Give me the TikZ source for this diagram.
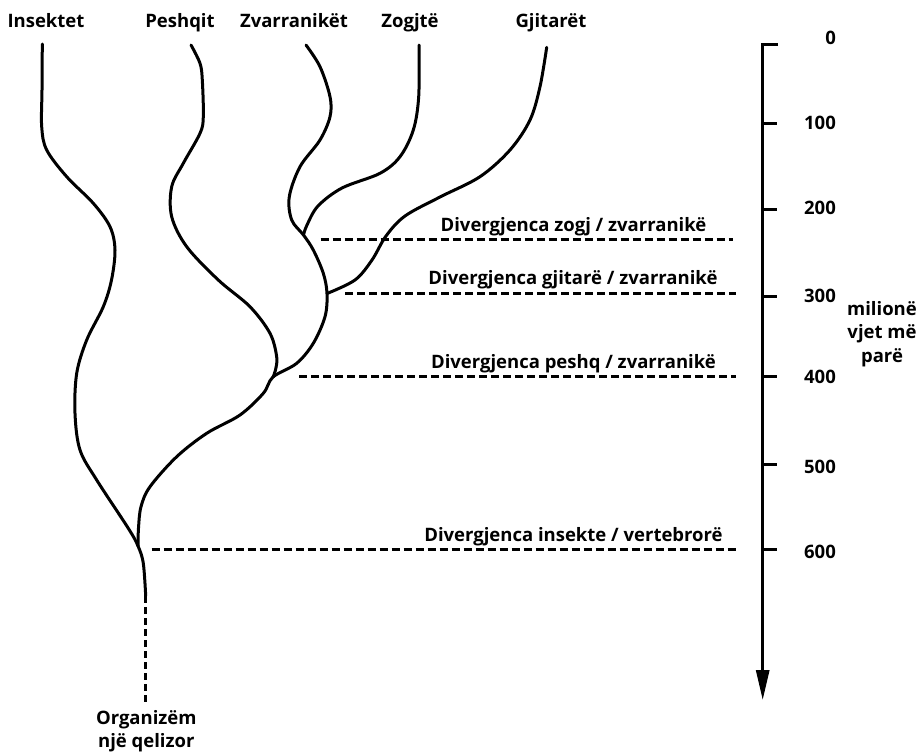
\documentclass[tikz,border=0pt]{standalone}
\usepackage{fontspec}
\setmainfont{Open Sans}
\usetikzlibrary{arrows.meta}
\begin{document}
\begin{tikzpicture}[x=1pt,y=-1pt,
  lbl/.style={font=\fontsize{18.5}{23}\selectfont\bfseries, inner sep=0pt},
  branch/.style={line width=3pt, line cap=round, line join=round},
  divline/.style={line width=2.5pt, dash pattern=on 8pt off 4pt},
  axisline/.style={line width=3pt},
]
\useasboundingbox (0,0) rectangle (921,753);

% junctions and tips
\coordinate (Jins) at (138,546);
\coordinate (Jpes) at (273,377);
\coordinate (Jgji) at (327,293.5);
\coordinate (Jzog) at (303.5,235);
\coordinate (Tins) at (42.3,44);
\coordinate (Tpes) at (191,45);
\coordinate (Tzva) at (306,45);
\coordinate (Tzog) at (419,45);
\coordinate (Tgji) at (546.7,47.3);
\coordinate (Root) at (145.7,596);
\coordinate (Orig) at (145.7,702);

% insects + trunk
\draw[branch] plot[smooth, tension=0.55] coordinates {(Tins) (42,90) (41.7,126.7) (46.7,150) (66.7,176.7) (93.3,203.3) (110,226.7) (115,250) (111.5,280) (103.3,306.7) (86.7,340) (76.7,373.3) (75,413.3) (80,450) (96.7,480) (128.3,528.3) (Jins) (143.3,563.3) (Root)};
% vertebrate stem to reptiles
\draw[branch] plot[smooth, tension=0.55] coordinates {(Jins) (138.5,528) (141,506.7) (150,486.7) (176.7,456.7) (206.7,433.3) (240,415) (263.3,393.3) (Jpes) (296.7,363.3) (313.3,343.3) (325,316.7) (Jgji) (323.3,273.3) (313.3,250) (Jzog) (291.7,220) (289.3,196.7) (300,166.7) (320,140) (330,116.7) (330,96.7) (320,66.7) (Tzva)};
% fish
\draw[branch] plot[smooth, tension=0.55] coordinates {(Tpes) (200,63.3) (202.3,80) (203.3,116.7) (200,133.3) (183.3,163.3) (171.7,186.7) (171.7,216.7) (186.7,246.7) (218.3,280) (250,306.7) (270,333.3) (276.7,356.7) (275.5,370) (Jpes)};
% birds
\draw[branch] plot[smooth, tension=0.55] coordinates {(Tzog) (418.7,96.7) (413.3,130) (400,156.7) (380,173.3) (342,188) (318,206) (307,225) (Jzog)};
% mammals
\draw[branch] plot[smooth, tension=0.55] coordinates {(Tgji) (540,86.7) (530,120) (510,150) (480,176.7) (440,197) (405,216) (386,236) (372,260) (355,280) (Jgji)};
% origin dashed
\draw[line width=2.5pt, dash pattern=on 7pt off 4pt] (Root) -- (Orig);

% divergence lines
\coordinate (Dz1) at (320.7,239.3); \coordinate (Dz2) at (733,239.3);
\coordinate (Dg1) at (345,293.3);   \coordinate (Dg2) at (736,293.3);
\coordinate (Dp1) at (299.3,376.7); \coordinate (Dp2) at (736,376.7);
\coordinate (Di1) at (151.7,549.3); \coordinate (Di2) at (736.7,549.3);
\draw[divline] (Dz1) -- (Dz2);
\draw[divline] (Dg1) -- (Dg2);
\draw[divline] (Dp1) -- (Dp2);
\draw[divline] (Di1) -- (Di2);

\node[lbl, anchor=base] (Lzog) at (573.5,231) {Divergjenca zogj / zvarranikë};
\node[lbl, anchor=base] (Lgji) at (573,284.3) {Divergjenca gjitarë / zvarranikë};
\node[lbl, anchor=base] (Lpes) at (573.5,368.3) {Divergjenca peshq / zvarranikë};
\node[lbl, anchor=base] (Lins) at (573.5,541) {Divergjenca insekte / vertebrorë};

% top labels
\node[lbl, anchor=base] (Nins) at (46,27) {Insektet};
\node[lbl, anchor=base] (Npes) at (180,27) {Peshqit};
\node[lbl, anchor=base] (Nzva) at (294,27) {Zvarranikët};
\node[lbl, anchor=base] (Nzog) at (410,27) {Zogjtë};
\node[lbl, anchor=base] (Ngji) at (551,27) {Gjitarët};

% bottom label
\node[lbl, anchor=base] (O1) at (146.3,724) {Organizëm};
\node[lbl, anchor=base] (O2) at (146.3,747.7) {një qelizor};

% axis
\coordinate (Atick) at (778,44.3);
\coordinate (Atop) at (762.7,44.3);
\coordinate (Abot) at (762.7,700);
\draw[axisline, line join=miter, -{Triangle[length=30pt,width=13pt]}] (Atick) -- (Atop) -- (Abot);
\foreach \yy in {123.3,209,296,376.7,464,549.3} {
  \draw[axisline] (762.7,\yy) -- (777,\yy);
}
\node[lbl, anchor=east] (n0) at (836,37.5) {0};
\node[lbl, anchor=east] (n1) at (836,123.3) {100};
\node[lbl, anchor=east] (n2) at (836,208.3) {200};
\node[lbl, anchor=east] (n3) at (836,295.7) {300};
\node[lbl, anchor=east] (n4) at (836,377.3) {400};
\node[lbl, anchor=east] (n5) at (836,467) {500};
\node[lbl, anchor=east] (n6) at (836,551.7) {600};

\node[lbl, anchor=base] (m1) at (882,315) {milionë};
\node[lbl, anchor=base] (m2) at (882,338.3) {vjet më};
\node[lbl, anchor=base] (m3) at (882,362) {parë};
\end{tikzpicture}
\end{document}
